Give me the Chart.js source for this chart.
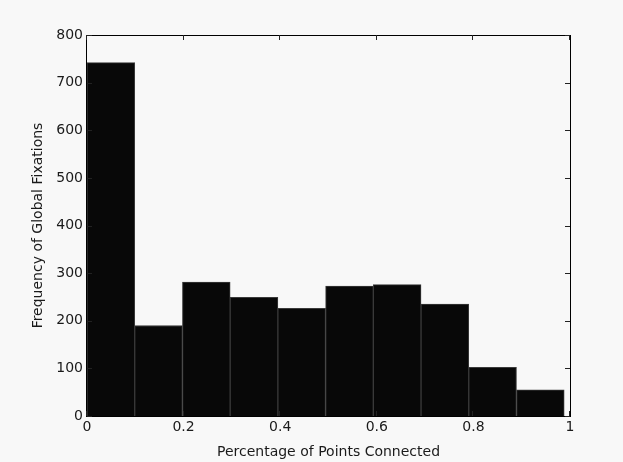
<!DOCTYPE html>
<html>
<head>
<meta charset="utf-8">
<script src="https://cdn.jsdelivr.net/npm/chart.js@4"></script>
<style>
	body { margin: 0; background: #f8f8f8; }
	#histChart { display: block; }
</style>
</head>
<body>
<canvas id="histChart" width="623" height="462"></canvas>
<script>
const histCanvas = document.getElementById("histChart");

//////////////////////////////// data

// bin centres (bins run from 0 to ~0.988, width ~0.0988)
const binCenters = [0.0494, 0.1482, 0.247, 0.3458, 0.4446, 0.5434, 0.6422, 0.741, 0.8398, 0.9386];
const binCounts = [742, 190, 281, 249, 226, 273, 276, 235, 102, 55];
const xTicks = [0, 0.2, 0.4, 0.6, 0.8, 1];
const yTicks = [0, 100, 200, 300, 400, 500, 600, 700, 800];

const xTitle = "Percentage of Points Connected";
const yTitle = "Frequency of Global Fixations";

//////////////////////////////// matlab-style box + inward ticks

const boxPlugin = {
	id: "boxAxes",
	afterDraw(chart) {
		const { ctx, chartArea } = chart;
		const { left, right, top, bottom } = chartArea;
		const xs = chart.scales.x;
		const ys = chart.scales.y;
		ctx.save();
		ctx.strokeStyle = "#000";
		ctx.lineWidth = 1;
		ctx.strokeRect(left - 0.5, top + 0.5, right - left + 1, bottom - top);
		ctx.strokeStyle = "#222";
		ctx.beginPath();
		yTicks.forEach((v) => {
			const y = Math.round(ys.getPixelForValue(v)) + 0.5;
			ctx.moveTo(left, y);
			ctx.lineTo(left + 5, y);
			ctx.moveTo(right, y);
			ctx.lineTo(right - 5, y);
		});
		xTicks.forEach((v) => {
			const x = Math.round(xs.getPixelForValue(v)) - 0.5;
			ctx.moveTo(x, bottom);
			ctx.lineTo(x, bottom - 5);
			ctx.moveTo(x, top);
			ctx.lineTo(x, top + 5);
		});
		ctx.stroke();
		ctx.restore();
	},
};

const tickFont = { family: "DejaVu Sans", size: 14 };

new Chart(histCanvas, {
	type: "bar",
	data: {
		datasets: [
			{
				data: binCenters.map((c, i) => ({ x: c, y: binCounts[i] })),
				backgroundColor: "#080808",
				borderColor: "#3a3a3a",
				borderWidth: 1,
				barPercentage: 1,
				categoryPercentage: 1,
			},
		],
	},
	options: {
		responsive: false,
		animation: false,
		layout: {
			padding: { top: 35, right: 53, left: 0, bottom: 0 },
		},
		scales: {
			x: {
				type: "linear",
				min: 0,
				max: 1,
				offset: false,
				afterBuildTicks: (scale) => {
					scale.ticks = xTicks.map((v) => ({ value: v }));
				},
				afterFit: (scale) => {
					scale.height = 46;
				},
				grid: { display: false, drawTicks: false, offset: false },
				border: { display: false },
				ticks: {
					color: "#1a1a1a",
					font: tickFont,
					padding: 3,
					maxRotation: 0,
					autoSkip: false,
					callback: (v) => String(v),
				},
				title: {
					display: true,
					text: xTitle,
					color: "#1a1a1a",
					font: tickFont,
					padding: { top: 0, bottom: 1 },
				},
			},
			y: {
				min: 0,
				max: 800,
				afterBuildTicks: (scale) => {
					scale.ticks = yTicks.map((v) => ({ value: v }));
				},
				afterFit: (scale) => {
					scale.width = 87;
				},
				grid: { display: false, drawTicks: false },
				border: { display: false },
				ticks: {
					color: "#1a1a1a",
					font: tickFont,
					padding: 4,
					autoSkip: false,
					callback: (v) => String(v),
				},
				title: {
					display: true,
					text: yTitle,
					color: "#1a1a1a",
					font: tickFont,
					padding: { top: 30, bottom: 0 },
				},
			},
		},
		plugins: {
			legend: { display: false },
			tooltip: { enabled: false },
		},
	},
	plugins: [boxPlugin],
});
</script>
</body>
</html>
